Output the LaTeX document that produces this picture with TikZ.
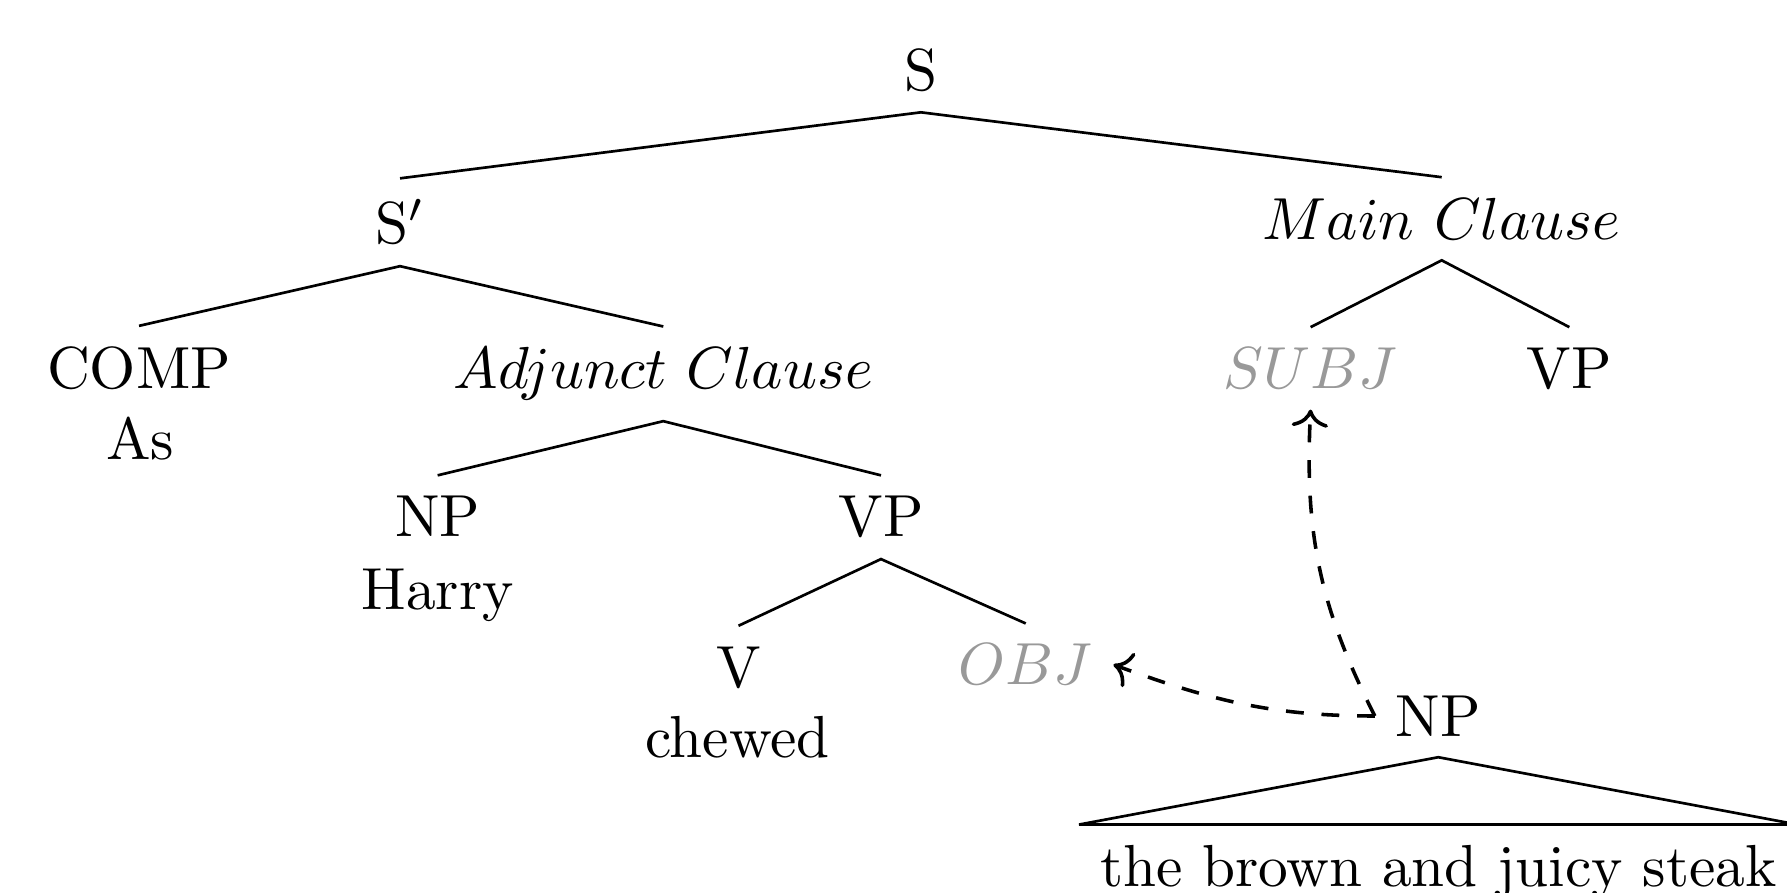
\documentclass[tikz,border=0pt]{standalone}
\usetikzlibrary{arrows.meta}
\begin{document}
\begin{tikzpicture}[x=0.192pt,y=-0.192pt,
  lab/.style={anchor=base,inner sep=3.33pt},
  ghost/.style={lab,text=black!40},
  br/.style={line width=0.45pt},
  mv/.style={dashed,line width=0.6pt,->}]
\useasboundingbox (0,0) rectangle (1568,783);
% nodes
\node[lab] (s) at (808,79) {S};
\node[lab] (sp) at (351,214) {S$'$};
\node[lab] (mc) at (1265,210) {$Main\ Clause$};
\node[lab] (comp) at (122,341) {COMP};
\node[lab] (as) at (123,403) {As};
\node[lab] (adj) at (582,341) {$Adjunct\ Clause$};
\node[ghost] (subj) at (1150,341) {$SUBJ$};
\node[lab] (vpm) at (1377,341) {VP};
\node[lab] (npa) at (384,471) {NP};
\node[lab] (harry) at (384,535) {Harry};
\node[lab] (vpa) at (773,471) {VP};
\node[lab] (v) at (648,603) {V};
\node[lab] (chewed) at (647,665) {chewed};
\node[ghost] (obj) at (900,601) {$OBJ$};
\node[lab] (np) at (1262,646) {NP};
\node[lab] (steak) at (1262,778) {the brown and juicy steak};
% branches
\draw[br] (sp.north) -- (s.south) -- (mc.north);
\draw[br] (comp.north) -- (sp.south) -- (adj.north);
\draw[br] (subj.north) -- (mc.south) -- (vpm.north);
\draw[br] (npa.north) -- (adj.south) -- (vpa.north);
\draw[br] (v.north) -- (vpa.south) -- (obj.north);
\draw[br] (steak.north west) -- (np.south) -- (steak.north east) -- cycle;
% movement arrows
\draw[mv] (np.west) to[out=180,in=-20] (obj.east);
\draw[mv] (np.west) to[out=117,in=-93] (subj.south);
\end{tikzpicture}
\end{document}
